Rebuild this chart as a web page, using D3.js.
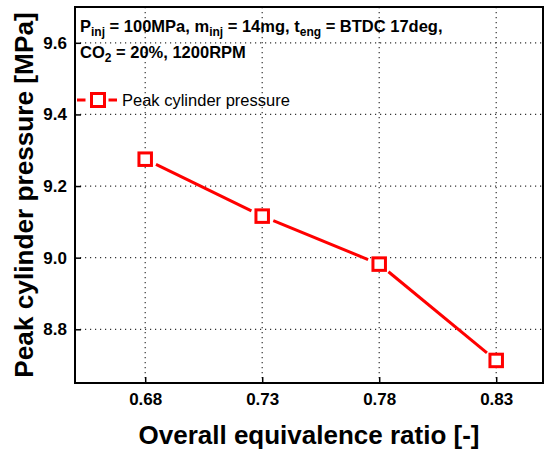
<!DOCTYPE html>
<html>
<head>
<meta charset="utf-8">
<script src="https://cdn.jsdelivr.net/npm/d3@7"></script>
<style>
  html, body { margin: 0; padding: 0; background: #fff; }
  svg { display: block; font-family: "Liberation Sans", Arial, sans-serif; }
</style>
</head>
<body>
<svg id="chart" width="550" height="452"></svg>
<script>
// Equivalence ratio sweep and measured peak cylinder pressure
const ratios = [0.68, 0.73, 0.78, 0.83];
const peakPressure = [9.275, 9.116, 8.982, 8.713];
const xTicks = [0.68, 0.73, 0.78, 0.83];
const yTicks = [8.8, 9.0, 9.2, 9.4, 9.6];
const seriesName = "Peak cylinder pressure";

(function () {
const svg = d3.select("#chart");
const plotL = 75, plotR = 543, plotT = 7, plotB = 383;
const red = "#ff0000";

const x = d3.scaleLinear().domain([0.65, 0.85]).range([plotL, plotR]);
const y = d3.scaleLinear().domain([8.65, 9.7]).range([plotB, plotT]);

// dotted grid
const grid = svg.append("g");
grid.selectAll("line.gx").data(xTicks).join("line")
  .attr("x1", d => x(d)).attr("x2", d => x(d))
  .attr("y1", plotT).attr("y2", plotB)
  .attr("stroke", "#333").attr("stroke-width", 1.2).attr("stroke-dasharray", "1.2,3.8");
grid.selectAll("line.gy").data(yTicks).join("line")
  .attr("y1", d => y(d)).attr("y2", d => y(d))
  .attr("x1", plotL).attr("x2", plotR)
  .attr("stroke", "#333").attr("stroke-width", 1.2).attr("stroke-dasharray", "1.2,3.8");

// axes with inward ticks
const xAxis = svg.append("g").attr("transform", `translate(0,${plotB})`)
  .call(d3.axisBottom(x).tickValues(xTicks).tickFormat(d3.format(".2f")).tickSize(-6).tickPadding(10));
const yAxis = svg.append("g").attr("transform", `translate(${plotL},0)`)
  .call(d3.axisLeft(y).tickValues(yTicks).tickFormat(d3.format(".1f")).tickSize(-6).tickPadding(8));
[xAxis, yAxis].forEach(a => {
  a.select(".domain").remove();
  a.selectAll(".tick line").attr("stroke", "#000").attr("stroke-width", 1.5);
  a.selectAll(".tick text").attr("fill", "#000").attr("font-size", 17)
    .attr("font-weight", "bold").attr("font-family", "Liberation Sans, Arial, sans-serif");
});

// frame
svg.append("rect").attr("x", plotL).attr("y", plotT)
  .attr("width", plotR - plotL).attr("height", plotB - plotT)
  .attr("fill", "none").attr("stroke", "#000").attr("stroke-width", 2);

// connecting segments, stopped short of the markers
const pts = ratios.map((r, i) => [x(r), y(peakPressure[i])]);
const gap = 12;
const segs = d3.pairs(pts).map(([a, b]) => {
  const dx = b[0] - a[0], dy = b[1] - a[1], L = Math.hypot(dx, dy);
  const ux = dx / L, uy = dy / L;
  return [a[0] + ux * gap, a[1] + uy * gap, b[0] - ux * gap, b[1] - uy * gap];
});
svg.append("g").selectAll("line").data(segs).join("line")
  .attr("x1", d => d[0]).attr("y1", d => d[1]).attr("x2", d => d[2]).attr("y2", d => d[3])
  .attr("stroke", red).attr("stroke-width", 3);

// square markers
const ms = 12.5;
svg.append("g").selectAll("rect").data(pts).join("rect")
  .attr("x", d => d[0] - ms / 2).attr("y", d => d[1] - ms / 2)
  .attr("width", ms).attr("height", ms)
  .attr("fill", "#fff").attr("stroke", red).attr("stroke-width", 3);

// operating condition annotation
const note = svg.append("g").attr("font-weight", "bold").attr("font-size", 16.5).attr("fill", "#000");
const l1 = note.append("text").attr("x", 80).attr("y", 32);
l1.append("tspan").text("P");
l1.append("tspan").attr("font-size", 12).attr("dy", 4).text("inj");
l1.append("tspan").attr("dy", -4).text(" = 100MPa, m");
l1.append("tspan").attr("font-size", 12).attr("dy", 4).text("inj");
l1.append("tspan").attr("dy", -4).text(" = 14mg, t");
l1.append("tspan").attr("font-size", 12).attr("dy", 4).text("eng");
l1.append("tspan").attr("dy", -4).text(" = BTDC 17deg,");
const l2 = note.append("text").attr("x", 80).attr("y", 58);
l2.append("tspan").text("CO");
l2.append("tspan").attr("font-size", 12).attr("dy", 4).text("2");
l2.append("tspan").attr("dy", -4).text(" = 20%, 1200RPM");

// legend
const lg = svg.append("g").attr("transform", "translate(0,100)");
lg.append("line").attr("x1", 77).attr("x2", 85.5).attr("stroke", red).attr("stroke-width", 3);
lg.append("line").attr("x1", 108.5).attr("x2", 117).attr("stroke", red).attr("stroke-width", 3);
lg.append("rect").attr("x", 98 - 6.5).attr("y", -6.5).attr("width", 13).attr("height", 13)
  .attr("fill", "#fff").attr("stroke", red).attr("stroke-width", 3);
lg.append("text").attr("x", 122).attr("y", 6).attr("font-size", 16.5).attr("fill", "#000").text(seriesName);

// axis titles
svg.append("text").attr("x", (plotL + plotR) / 2).attr("y", 444)
  .attr("text-anchor", "middle").attr("font-size", 26).attr("font-weight", "bold")
  .text("Overall equivalence ratio [-]");
svg.append("text").attr("transform", `translate(33,195) rotate(-90)`)
  .attr("text-anchor", "middle").attr("font-size", 26.2).attr("font-weight", "bold")
  .text("Peak cylinder pressure [MPa]");
})();
</script>
</body>
</html>
